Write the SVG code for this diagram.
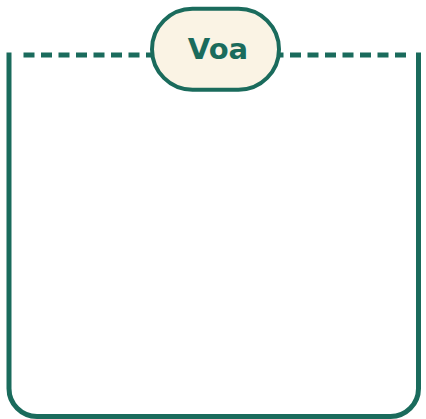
<svg xmlns="http://www.w3.org/2000/svg" width="426" height="419" viewBox="0 0 426 419">
  <style>
    .frame { fill: none; stroke: #1a6b5c; stroke-width: 5; }
    .dash { fill: none; stroke: #1a6b5c; stroke-width: 5; stroke-dasharray: 11 6.5; }
    .pill { fill: #faf3e4; stroke: #1a6b5c; stroke-width: 4; }
    .label { font-family: "DejaVu Sans", sans-serif; font-weight: bold; font-size: 29px; fill: #1a6b5c; text-anchor: middle; }
  </style>
  <g id="connectors">
    <path class="frame" d="M9 52.5 V388.5 A28 28 0 0 0 37 416.5 H390.5 A28 28 0 0 0 418.5 388.5 V52.5"/>
    <line class="dash" x1="23.5" y1="55" x2="152" y2="55"/>
    <line class="dash" x1="406" y1="55" x2="279" y2="55"/>
  </g>
  <g id="node-voa">
    <rect class="pill" x="152" y="8.7" width="127" height="81" rx="40.5" ry="40.5"/>
    <text class="label" x="218" y="58.5">Voa</text>
  </g>
</svg>
